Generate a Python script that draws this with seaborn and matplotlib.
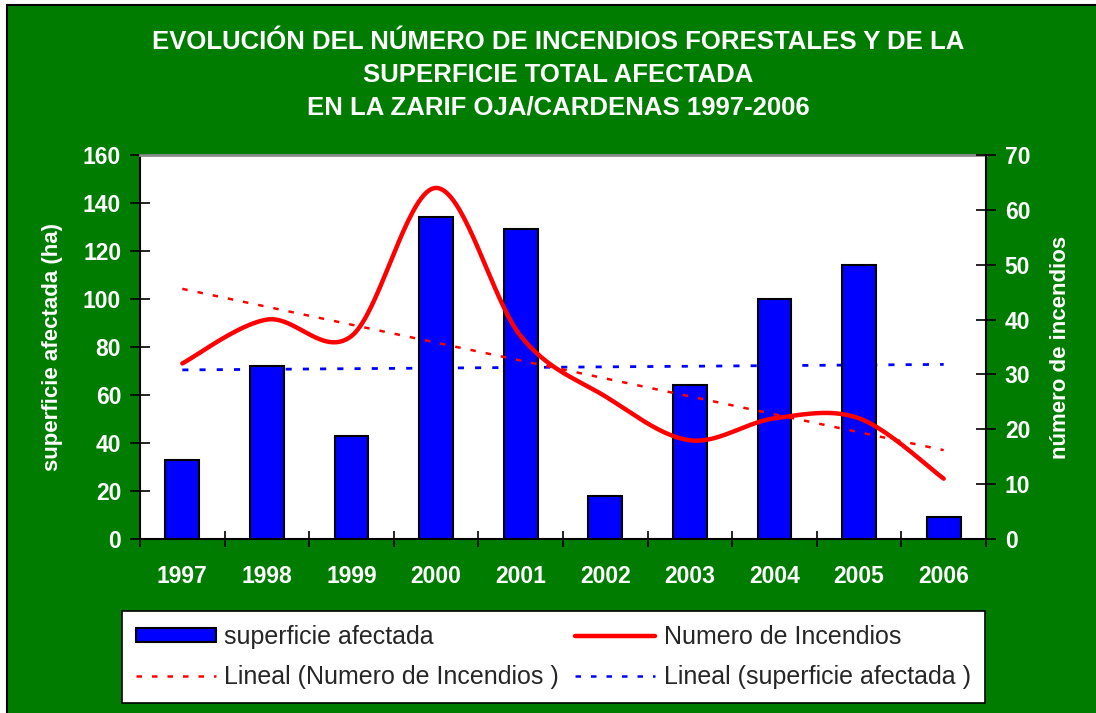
import numpy as np
import pandas as pd
import matplotlib
matplotlib.use("Agg")
import matplotlib.pyplot as plt
import seaborn as sns
from matplotlib.patches import Rectangle, Patch
from matplotlib.lines import Line2D

# ---------------- data ----------------
years = ["1997", "1998", "1999", "2000", "2001", "2002", "2003", "2004", "2005", "2006"]
superficie = [33, 72, 43, 134, 129, 18, 64, 100, 114, 9]       # ha (left axis)
incendios = [32, 40, 37, 64, 37, 26, 18, 22, 22, 11]           # number (right axis)
left_ticks = [0, 20, 40, 60, 80, 100, 120, 140, 160]
right_ticks = [0, 10, 20, 30, 40, 50, 60, 70]

title = ("EVOLUCIÓN DEL NÚMERO DE INCENDIOS FORESTALES Y DE LA\n"
         "SUPERFICIE TOTAL AFECTADA\n"
         "EN LA ZARIF OJA/CARDENAS 1997-2006")
left_label = "superficie afectada (ha)"
right_label = "número de incendios"
legend_labels = ["superficie afectada", "Lineal (Numero de Incendios )",
                 "Numero de Incendios", "Lineal (superficie afectada )"]

GREEN = "#007d00"
BLUE = "#0000ff"
RED = "#ff0000"

sns.set_theme(style="white")
plt.rcParams['font.family'] = ['Liberation Sans', 'DejaVu Sans']


def catmull_rom(x, y, n=40):
    pts = np.column_stack([x, y]).astype(float)
    P = np.vstack([pts[0], pts, pts[-1]])
    out = []
    t = np.linspace(0, 1, n)[:, None]
    for i in range(1, len(P) - 2):
        p0, p1, p2, p3 = P[i - 1], P[i], P[i + 1], P[i + 2]
        c1 = p1 + (p2 - p0) / 6.0
        c2 = p2 - (p3 - p1) / 6.0
        b = (1 - t) ** 3 * p1 + 3 * (1 - t) ** 2 * t * c1 + 3 * (1 - t) * t ** 2 * c2 + t ** 3 * p2
        out.append(b)
    return np.vstack(out)


W, H = 1096, 713
fig = plt.figure(figsize=(W / 100, H / 100), dpi=100, facecolor="white")
fig.patches.append(Rectangle((7 / W, -0.1), 2, 1 - 5 / H + 0.1, transform=fig.transFigure,
                             facecolor=GREEN, edgecolor="black", lw=1.5, zorder=-10))

ax = fig.add_axes([140 / W, 1 - 539 / H, 846 / W, 384 / H])
ax.set_facecolor("white")

df = pd.DataFrame({"year": years, "superficie": superficie})
sns.barplot(data=df, x="year", y="superficie", ax=ax, color=BLUE, saturation=1,
            width=0.4, edgecolor="black", linewidth=1.5, zorder=2)

xpos = np.arange(len(years))
# linear trend of superficie (left axis), behind bars
cs = np.polyfit(xpos, superficie, 1)
ax.plot(xpos[[0, -1]], np.polyval(cs, xpos[[0, -1]]), color=BLUE, lw=2,
        linestyle=(0, (2.2, 4)), zorder=1)

ax.set_xlim(-0.5, len(years) - 0.5)
ax.set_ylim(0, 160)
ax.set_yticks(left_ticks)
ax.set_xlabel("")
ax.set_ylabel(left_label, color="white", fontsize=16, fontweight="bold")
ax.yaxis.set_label_coords(-0.091, 0.5)

ax.set_xticks(xpos)
ax.set_xticklabels(years)
ax.set_xticks(np.arange(-0.5, len(years), 1), minor=True)
ax.tick_params(axis="x", which="major", length=0, pad=19, labelsize=16.5, labelcolor="white")
ax.tick_params(axis="x", which="minor", length=12, width=1.2, direction="inout", color="black", bottom=True)
ax.tick_params(axis="y", length=15, width=1.2, direction="inout", color="black", left=True,
               labelsize=16.5, labelcolor="white", pad=6)
for lab in ax.get_xticklabels() + ax.get_yticklabels():
    lab.set_fontweight("bold")

for s in ["left", "bottom"]:
    ax.spines[s].set_color("black")
    ax.spines[s].set_linewidth(1.5)
ax.spines["top"].set_color("#8c8c8c")
ax.spines["top"].set_linewidth(2)
ax.spines["right"].set_visible(False)
ax.grid(False)

# right axis
ax2 = ax.twinx()
sm = catmull_rom(xpos, incendios)
sns.lineplot(x=sm[:, 0], y=sm[:, 1], ax=ax2, sort=False, estimator=None, color=RED, lw=3.2, zorder=3)
ci = np.polyfit(xpos, incendios, 1)
ax2.plot(xpos[[0, -1]], np.polyval(ci, xpos[[0, -1]]), color=RED, lw=1.8,
         linestyle=(0, (2.2, 4)), zorder=2)
ax2.set_ylim(0, 70)
ax2.set_yticks(right_ticks)
ax2.set_ylabel(right_label, color="white", fontsize=16, fontweight="bold", rotation=90)
ax2.yaxis.set_label_coords(1.0757, 0.5)
ax2.tick_params(axis="y", length=15, width=1.2, direction="inout", color="black", right=True,
                labelsize=16.5, labelcolor="white", pad=6)
for lab in ax2.get_yticklabels():
    lab.set_fontweight("bold")
for s in ["left", "top", "bottom"]:
    ax2.spines[s].set_visible(False)
ax2.spines["right"].set_color("black")
ax2.spines["right"].set_linewidth(1.5)
ax2.grid(False)
ax2.set_xlim(-0.5, len(years) - 0.5)

# title
fig.text(558.5 / W, 1 - 75 / H, title, ha="center", va="center", color="white",
         fontsize=18.5, fontweight="bold", linespacing=1.45)

# legend
handles = [Patch(facecolor=BLUE, edgecolor="black", lw=1.5),
           Line2D([], [], color=RED, lw=1.8, linestyle=(0, (2.2, 4))),
           Line2D([], [], color=RED, lw=3.2),
           Line2D([], [], color=BLUE, lw=1.8, linestyle=(0, (2.2, 4)))]
leg = fig.legend(handles, legend_labels, ncol=2, loc="center",
                 bbox_to_anchor=(122 / W, 1 - 701 / H, 863 / W, 88 / H), mode="expand",
                 fontsize=18, frameon=True, fancybox=False, framealpha=1,
                 edgecolor="black", facecolor="white", handlelength=3.2,
                 handleheight=0.5, handletextpad=0.35, labelspacing=0.65,
                 borderaxespad=0, columnspacing=1.0, borderpad=0.55)
leg.get_frame().set_linewidth(1.2)

fig.savefig("out.png", dpi=100, facecolor=fig.get_facecolor())
